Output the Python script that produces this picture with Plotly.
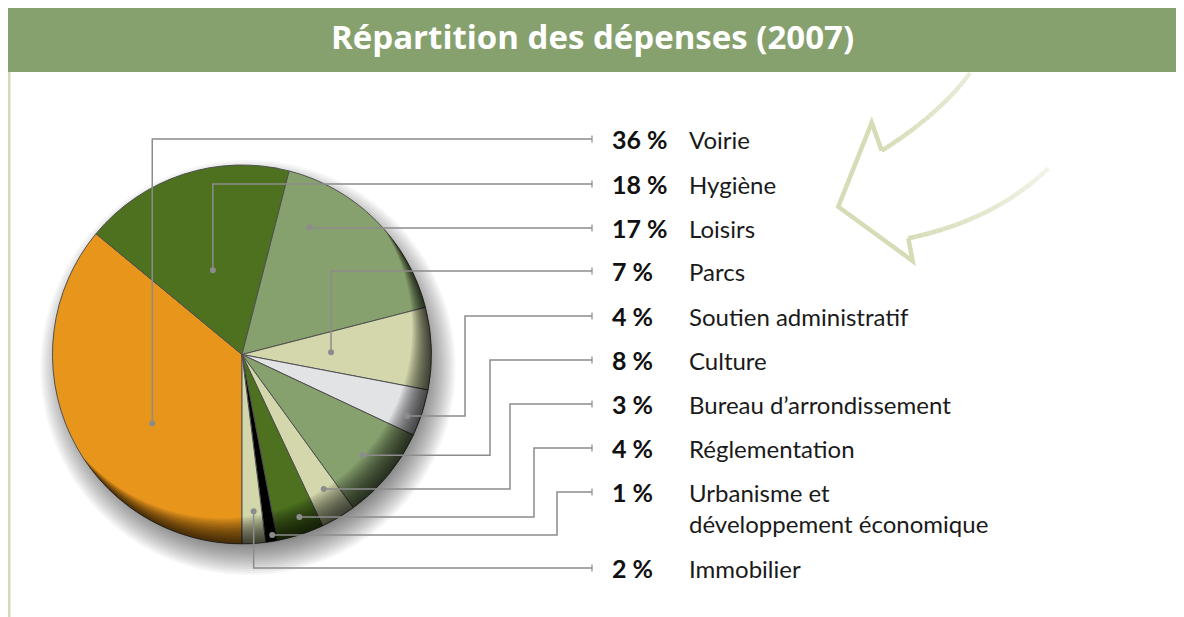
import math
import plotly.graph_objects as go

# ---------------- data ----------------
title_text = "Répartition des dépenses (2007)"
categories = ["Voirie", "Hygiène", "Loisirs", "Parcs", "Soutien administratif",
              "Culture", "Bureau d’arrondissement", "Réglementation",
              "Urbanisme et développement économique", "Immobilier"]
values = [36, 18, 17, 7, 4, 8, 3, 4, 1, 2]

# ---------------- styles / layout ----------------
slice_colors = ["#e8951c", "#4d711f", "#87a16e", "#d3d7ab", "#e2e3e5",
                "#87a16e", "#d3d7ab", "#4d711f", "#000000", "#d3d7ab"]
row_y = [139, 184, 228, 271, 316, 360, 404, 448, 492, 568]
anchor_frac = [0.405, 0.483, 0.22, 0.515, 0.67, 0.51, 0.435, 0.40, 0.36, 0.41]
anchor_rad = [0.597, 0.47, 0.76, 0.47, 0.93, 0.83, 0.83, 0.91, 0.966, 0.83]
elbow_x = [None, None, None, None, 465, 490, 510, 534, 557, None]
label_breaks = {"Urbanisme et développement économique": ["Urbanisme et", "développement économique"]}

W, H = 1184, 617
OFF = 8  # page body margin: axis coordinates below are page pixels
CX, CY, R = 242.0, 354.5, 189.5
LINE_END = 592
PCT_X, NAME_X = 610, 687
LEADER = "#8c8c8c"
LABEL_FONT = "Lato"
LABEL_SIZE = 24
PCT_SIZE = 25

fig = go.Figure()

# invisible pixel axis covering the whole figure
fig.add_trace(go.Scatter(x=[OFF, W + OFF], y=[OFF, H + OFF], mode="markers", marker=dict(opacity=0),
                         hoverinfo="skip", showlegend=False))

fig.add_trace(go.Pie(
    labels=categories, values=values, sort=False, direction="clockwise", rotation=180,
    marker=dict(colors=slice_colors, line=dict(color="#505050", width=1)),
    textinfo="none", hoverinfo="label+percent", showlegend=False,
    domain=dict(x=[(CX - OFF - R) / W, (CX - OFF + R) / W],
                y=[1 - (CY - OFF + R) / H, 1 - (CY - OFF - R) / H]),
))

shapes = []


def circle_path(cx, cy, r, n=140):
    pts = [(cx + r * math.cos(2 * math.pi * k / n), cy + r * math.sin(2 * math.pi * k / n)) for k in range(n)]
    return "M " + " L ".join(f"{x:.2f},{y:.2f}" for x, y in pts) + " Z"


# drop shadow (below the pie)
for k in range(-12, 20, 2):
    shapes.append(dict(type="path", path=circle_path(CX + 6, CY + 13, R + k), xref="x", yref="y",
                       fillcolor="rgba(0,0,0,0.036)", line=dict(width=0), layer="below"))

# rim shading (crescents, above the pie)
ux, uy = -0.6, -0.8
nrm = math.hypot(ux, uy)
ux, uy = ux / nrm, uy / nrm
a0 = math.atan2(-uy, -ux)
for d in range(2, 34, 2):
    alpha = math.acos(-d / (2 * R))
    beta = math.acos(d / (2 * R))
    pts = []
    n = 90
    for k in range(n + 1):
        a = a0 - alpha + 2 * alpha * k / n
        pts.append((CX + R * math.cos(a), CY + R * math.sin(a)))
    sx, sy = CX + d * ux, CY + d * uy
    for k in range(n + 1):
        a = a0 + beta - 2 * beta * k / n
        pts.append((sx + R * math.cos(a), sy + R * math.sin(a)))
    path = "M " + " L ".join(f"{x:.2f},{y:.2f}" for x, y in pts) + " Z"
    shapes.append(dict(type="path", path=path, xref="x", yref="y",
                       fillcolor="rgba(0,0,0,0.068)", line=dict(width=0), layer="above"))

# leader lines, dots, labels
annotations = []
total = sum(values)
start = 180.0
for i, (cat, v) in enumerate(zip(categories, values)):
    span = v / total * 360.0
    ang = math.radians(start + anchor_frac[i] * span)
    start += span
    dx = CX + anchor_rad[i] * R * math.sin(ang)
    dy = CY - anchor_rad[i] * R * math.cos(ang)
    ry = row_y[i]
    if elbow_x[i] is None:
        path = f"M {dx:.2f},{dy:.2f} L {dx:.2f},{ry} L {LINE_END},{ry}"
    else:
        ex = elbow_x[i]
        path = f"M {dx:.2f},{dy:.2f} L {ex},{dy:.2f} L {ex},{ry} L {LINE_END},{ry}"
    shapes.append(dict(type="path", path=path, xref="x", yref="y",
                       line=dict(color=LEADER, width=1.5), layer="above"))
    shapes.append(dict(type="line", x0=LINE_END, x1=LINE_END, y0=ry - 3.5, y1=ry + 3.5,
                       xref="x", yref="y", line=dict(color=LEADER, width=1.2), layer="above"))
    shapes.append(dict(type="circle", x0=dx - 3, x1=dx + 3, y0=dy - 3, y1=dy + 3, xref="x", yref="y",
                       fillcolor=LEADER, line=dict(width=0), layer="above"))
    annotations.append(dict(x=PCT_X, y=ry, xref="x", yref="y", text=f"<b>{v} %</b>", showarrow=False,
                            xanchor="left", yanchor="middle",
                            font=dict(family=LABEL_FONT, size=PCT_SIZE, color="#111111")))
    lines = label_breaks.get(cat, [cat])
    for j, ln in enumerate(lines):
        annotations.append(dict(x=NAME_X, y=ry + 31 * j, xref="x", yref="y", text=ln, showarrow=False,
                                xanchor="left", yanchor="middle",
                                font=dict(family=LABEL_FONT, size=LABEL_SIZE, color="#1a1a1a")))

# title bar and frame
shapes.append(dict(type="rect", x0=7, x1=W + OFF, y0=6.5, y1=8.5, xref="x", yref="y",
                   fillcolor="#e1e5cc", line=dict(width=0), layer="below"))
shapes.append(dict(type="rect", x0=7, x1=W + OFF, y0=8, y1=72, xref="x", yref="y",
                   fillcolor="#87a16e", line=dict(width=0), layer="below"))
shapes.append(dict(type="rect", x0=7, x1=10.5, y0=72, y1=H + OFF, xref="x", yref="y",
                   fillcolor="#d6dbb5", line=dict(width=0), layer="below"))
annotations.append(dict(x=592.5, y=36, xref="x", yref="y", text=f"<b>{title_text}</b>", showarrow=False,
                        xanchor="center", yanchor="middle",
                        font=dict(family="Open Sans", size=33, color="#ffffff")))


# decorative arrow
def qbez(p0, c, p1, n=24):
    return [((1 - t) ** 2 * p0[0] + 2 * (1 - t) * t * c[0] + t * t * p1[0],
             (1 - t) ** 2 * p0[1] + 2 * (1 - t) * t * c[1] + t * t * p1[1]) for t in [k / n for k in range(n + 1)]]


def mix(c1, c2, t):
    a = [int(c1[i:i + 2], 16) for i in (1, 3, 5)]
    b = [int(c2[i:i + 2], 16) for i in (1, 3, 5)]
    return "#" + "".join(f"{round(a[i] + (b[i] - a[i]) * t):02x}" for i in range(3))


HEAD = "#d7dcb7"
head_pts = [(881.7, 150.7), (871.7, 122.7), (838.3, 206.7), (912.7, 261.0), (908.3, 238.3)]
shapes.append(dict(type="path", xref="x", yref="y", layer="above",
                   path="M " + " L ".join(f"{x},{y}" for x, y in head_pts),
                   line=dict(color=HEAD, width=4.5)))
for p0, c, p1, endcol in [((881.7, 150.7), (940.0, 114.0), (970.0, 73.0), "#e9ecd8"),
                          ((908.3, 238.3), (995.0, 220.0), (1048.3, 168.3), "#f1f3e6")]:
    pts = qbez(p0, c, p1)
    for k in range(len(pts) - 1):
        shapes.append(dict(type="line", xref="x", yref="y", layer="above",
                           x0=pts[k][0], y0=pts[k][1], x1=pts[k + 1][0], y1=pts[k + 1][1],
                           line=dict(color=mix(HEAD, endcol, k / (len(pts) - 2)), width=4.5)))

fig.update_layout(
    width=W, height=H, margin=dict(l=0, r=0, t=0, b=0),
    paper_bgcolor="#ffffff", plot_bgcolor="rgba(0,0,0,0)",
    xaxis=dict(range=[OFF, W + OFF], visible=False, fixedrange=True),
    yaxis=dict(range=[H + OFF, OFF], visible=False, fixedrange=True),
    shapes=shapes, annotations=annotations, showlegend=False,
)

fig.write_html("out.html")
